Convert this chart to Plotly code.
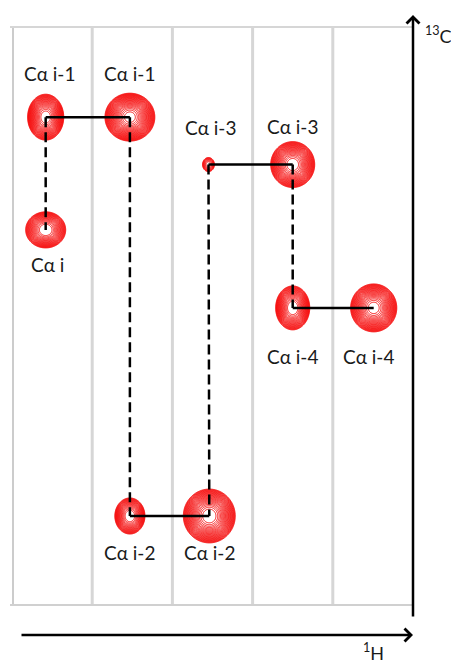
import numpy as np
import plotly.graph_objects as go

# ---- data -------------------------------------------------------------
labels = ["Cα i-1", "Cα i-1", "Cα i", "Cα i-3", "Cα i-3",
          "Cα i-4", "Cα i-4", "Cα i-2", "Cα i-2"]
# 1H position (strip units) and 13C position (arbitrary units)
peak_h = [0.42, 1.47, 0.42, 2.45, 3.50, 3.50, 4.51, 1.47, 2.46]
peak_c = [84.4, 84.4, 64.9, 76.2, 76.2, 51.4, 51.4, 15.4, 15.4]
peak_amp = [12, 16, 9, 2.5, 12, 10, 13, 8, 15]
peak_wh = [0.101, 0.132, 0.119, 0.055, 0.123, 0.099, 0.127, 0.092, 0.139]
peak_wc = [1.78, 1.76, 1.49, 0.90, 1.78, 1.77, 1.83, 1.53, 2.00]
solid_links = [(0, 1), (7, 8), (3, 4), (5, 6)]
dashed_links = [(0, 2), (1, 7), (3, 8), (4, 5)]
strip_edges = [0, 1, 2, 3, 4]

# label placement (pixels relative to peak)
label_yshift = [44, 44, -35, 37, 38, -49, -49, -37, -37]
label_xshift = [4, 0, 2, 2, 0, 0, -5, 0, 0]

# page has an 8px body margin -> figure is 8px smaller and shifted
OFF = 8
W, H = 459 - OFF, 661 - OFF
ML, MR, MT, MB = 12 - OFF, 46, 27 - OFF, 56
XR = [0, 5]
YR = [0, 100]

fig = go.Figure()

# peaks as contour plots (log-spaced contour levels, like an NMR plot)
for h, c, a, sh, sc in zip(peak_h, peak_c, peak_amp, peak_wh, peak_wc):
    xs = np.linspace(h - 3.4 * sh, h + 3.4 * sh, 121)
    ys = np.linspace(c - 3.4 * sc, c + 3.4 * sc, 121)
    X, Y = np.meshgrid(xs, ys)
    Z = a * np.exp(-((X - h) ** 2) / (2 * sh ** 2) - ((Y - c) ** 2) / (2 * sc ** 2))
    fig.add_trace(go.Contour(
        x=xs, y=ys, z=np.log(Z), autocontour=False,
        contours=dict(start=0, end=np.log(a) - 0.12, size=0.11, coloring="lines"),
        colorscale=[[0, "rgb(245,0,0)"], [1, "rgb(245,0,0)"]],
        line=dict(width=0.9), showscale=False, hoverinfo="skip"))

# connecting lines
for (i, j) in solid_links:
    fig.add_trace(go.Scatter(x=[peak_h[i], peak_h[j]], y=[peak_c[i], peak_c[j]],
                             mode="lines", line=dict(color="black", width=2.5),
                             hoverinfo="skip", showlegend=False))
for (i, j) in dashed_links:
    fig.add_trace(go.Scatter(x=[peak_h[i], peak_h[j]], y=[peak_c[i], peak_c[j]],
                             mode="lines", line=dict(color="black", width=2.5, dash="10px,5px"),
                             hoverinfo="skip", showlegend=False))

shapes = []
# strip frame
for k, e in enumerate(strip_edges):
    shapes.append(dict(type="line", xref="x", yref="paper", x0=e, x1=e, y0=0, y1=1,
                       line=dict(color="#cccccc" if k == 0 else "#d6d6d6", width=4 if k == 0 else 3),
                       layer="below"))
shapes.append(dict(type="line", xref="paper", yref="paper", x0=-0.005, x1=1, y0=1, y1=1,
                   line=dict(color="#d6d6d6", width=2), layer="below"))
shapes.append(dict(type="line", xref="paper", yref="paper", x0=-0.005, x1=1, y0=0, y1=0,
                   line=dict(color="#d0d0d0", width=2), layer="below"))

annotations = []
for t, h, c, ys, xs in zip(labels, peak_h, peak_c, label_yshift, label_xshift):
    annotations.append(dict(x=h, y=c, xref="x", yref="y", text=t, showarrow=False,
                            yshift=ys, xshift=xs,
                            font=dict(family="Lato", size=19, color="#1a1a1a")))

plot_h = H - MT - MB
plot_w = W - ML - MR
# axis arrows
annotations.append(dict(x=1, y=1 + 12 / plot_h, xref="paper", yref="paper", text="",
                        showarrow=True, ax=0, ay=603, axref="pixel", ayref="pixel",
                        arrowhead=4, arrowsize=1, arrowwidth=2.5, arrowcolor="black", standoff=0))
annotations.append(dict(x=1, y=-30 / plot_h, xref="paper", yref="paper", text="",
                        showarrow=True, ax=-393, ay=0, axref="pixel", ayref="pixel",
                        arrowhead=4, arrowsize=1, arrowwidth=2.5, arrowcolor="black", standoff=0))
annotations.append(dict(x=1 + 10 / plot_w, y=1 - 8 / plot_h, xref="paper", yref="paper",
                        text="<sup>13</sup>C", showarrow=False, xanchor="left", yanchor="middle",
                        font=dict(family="Lato", size=18, color="#1a1a1a")))
annotations.append(dict(x=(361 - 12) / plot_w, y=-33 / plot_h, xref="paper", yref="paper",
                        text="<sup>1</sup>H", showarrow=False, xanchor="left", yanchor="top",
                        font=dict(family="Lato", size=18, color="#1a1a1a")))

fig.update_layout(
    width=W, height=H, margin=dict(l=ML, r=MR, t=MT, b=MB),
    paper_bgcolor="white", plot_bgcolor="white", showlegend=False,
    xaxis=dict(range=XR, visible=False, fixedrange=True),
    yaxis=dict(range=YR, visible=False, fixedrange=True),
    shapes=shapes, annotations=annotations)

fig.write_html("out.html")
